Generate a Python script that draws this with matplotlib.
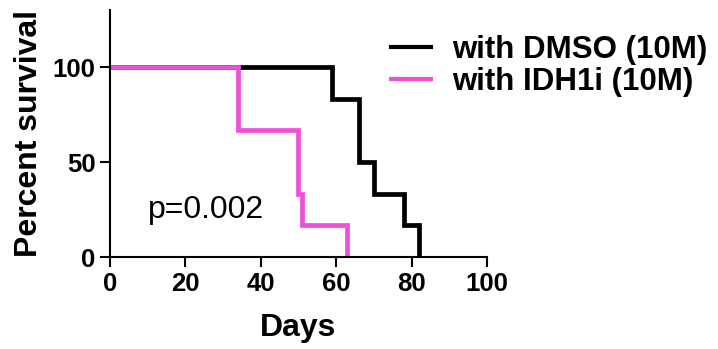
import matplotlib.pyplot as plt

plt.rcParams['font.family'] = ['Liberation Sans', 'DejaVu Sans']

# Kaplan-Meier steps (days, percent survival)
dmso_days = [0, 59, 66, 70, 78, 82]
dmso_surv = [100, 83.3, 50, 33.3, 16.7, 0]
idh1_days = [0, 34, 50, 51, 63]
idh1_surv = [100, 66.7, 33.3, 16.7, 0]

labels = ['with DMSO (10M)', 'with IDH1i (10M)']
x_ticks = [0, 20, 40, 60, 80, 100]
y_ticks = [0, 50, 100]

pink = '#f24fd8'

fig = plt.figure(figsize=(7.18, 3.49), dpi=100)
ax = fig.add_axes([0.1532, 0.2636, 0.525, 0.7077])

ax.step(dmso_days, dmso_surv, where='post', color='black', lw=3.4,
        solid_joinstyle='miter', label=labels[0])
ax.step(idh1_days, idh1_surv, where='post', color=pink, lw=3.4,
        solid_joinstyle='miter', label=labels[1])

ax.set_xlim(0, 100)
ax.set_ylim(0, 130)
ax.set_xticks(x_ticks)
ax.set_yticks(y_ticks)
for s in ['top', 'right']:
    ax.spines[s].set_visible(False)
for s in ['left', 'bottom']:
    ax.spines[s].set_linewidth(1.5)
ax.tick_params(direction='out', length=7, width=1.5, labelsize=18.5)
ax.tick_params(axis='x', pad=4)
for t in ax.get_xticklabels() + ax.get_yticklabels():
    t.set_fontweight('bold')

ax.set_xlabel('Days', fontsize=23, fontweight='bold', labelpad=12)
ax.set_ylabel('Percent survival', fontsize=23, fontweight='bold', labelpad=6)

ax.text(10, 25, 'p=0.002', fontsize=23, va='center')

leg = ax.legend(loc='upper left', bbox_to_anchor=(0.745, 0.898), frameon=False,
                prop={'size': 22.5, 'weight': 'bold'}, handlelength=1.3,
                handletextpad=0.65, labelspacing=0.05, borderaxespad=0,
                borderpad=0)
for h in leg.get_lines():
    h.set_linewidth(3)

fig.savefig('out.png', dpi=100)
